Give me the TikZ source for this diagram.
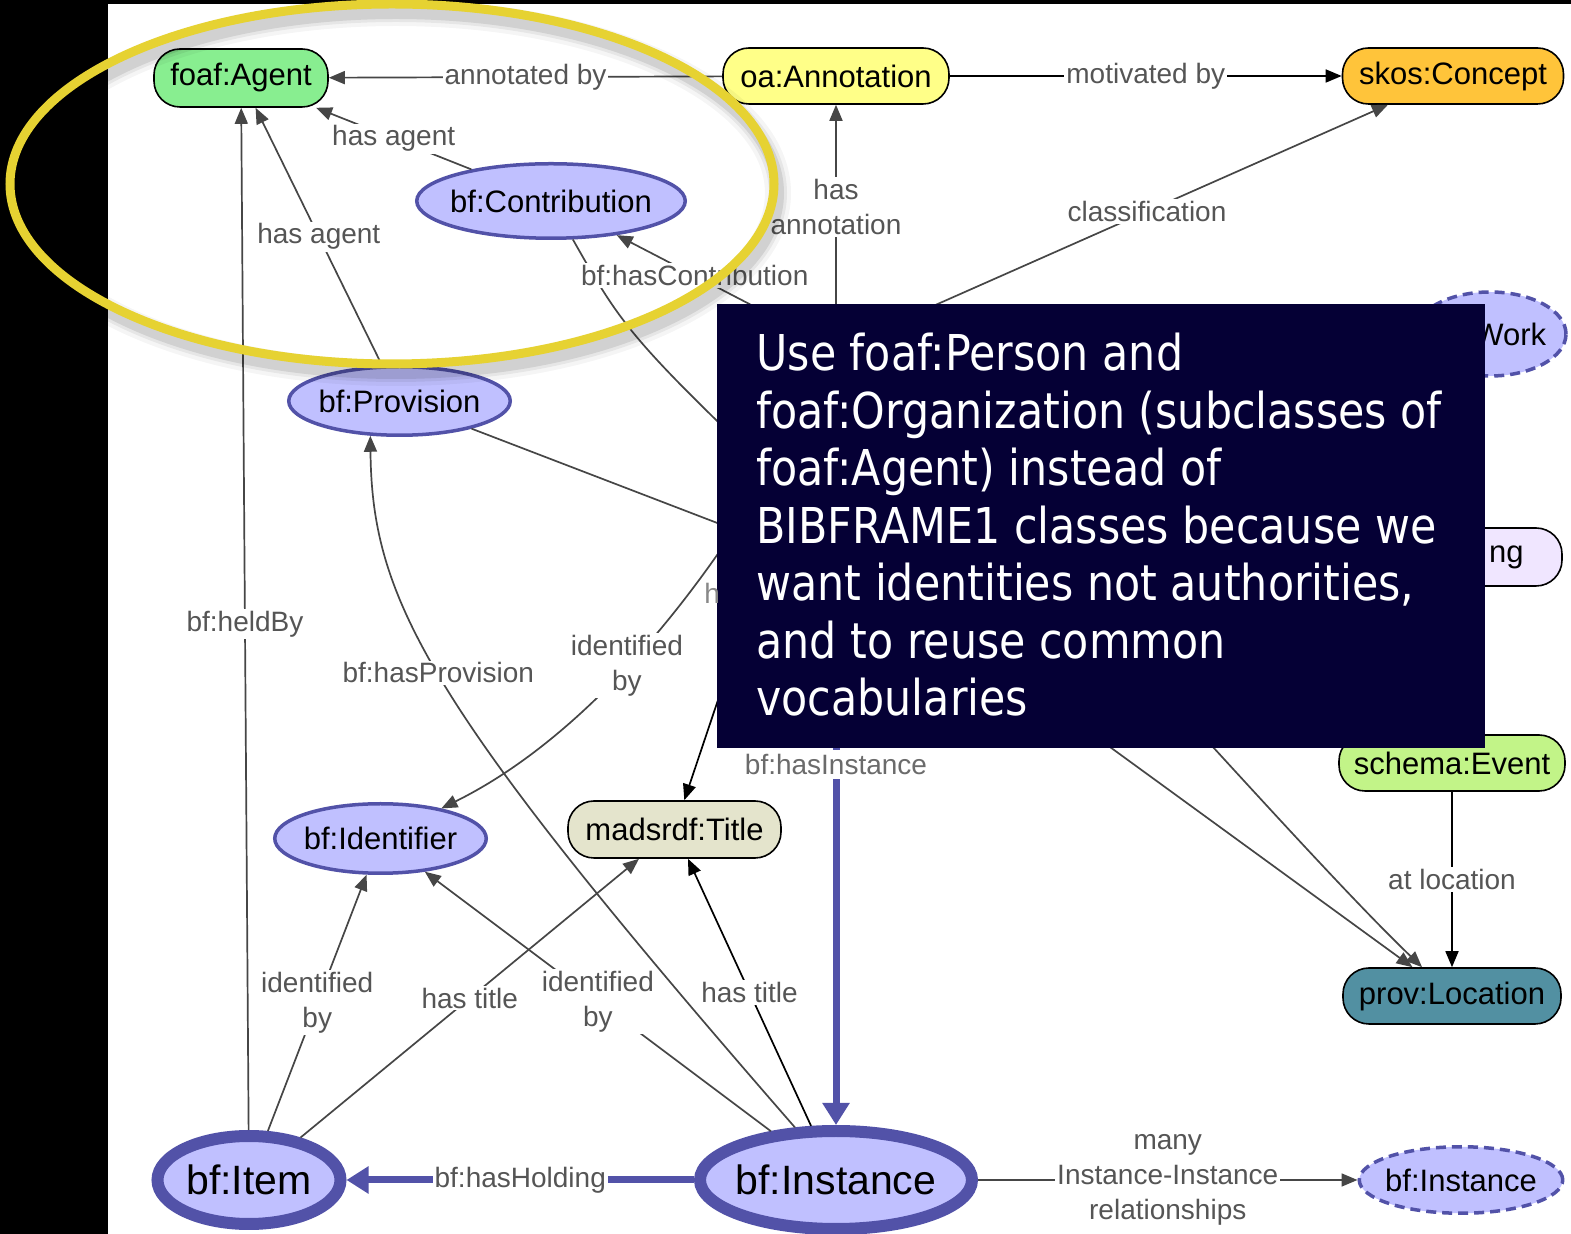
\documentclass[tikz,border=0pt]{standalone}
\usepackage{fontspec}
\usepackage{graphicx}
\setmainfont{Liberation Sans}
\newfontfamily\notefont{DejaVu Sans}
\usetikzlibrary{arrows.meta,shapes.geometric}

\definecolor{lav}{RGB}{192,192,255}
\definecolor{lavedge}{RGB}{82,82,168}
\definecolor{agentgreen}{RGB}{136,238,144}
\definecolor{annoyellow}{RGB}{255,255,136}
\definecolor{conceptorange}{RGB}{255,196,58}
\definecolor{titlegrey}{RGB}{228,228,204}
\definecolor{eventgreen}{RGB}{194,244,136}
\definecolor{locteal}{RGB}{82,144,162}
\definecolor{pinklav}{RGB}{240,230,255}
\definecolor{edgegrey}{RGB}{70,70,70}
\definecolor{labelgrey}{RGB}{85,85,85}
\definecolor{notebg}{RGB}{5,0,53}
\definecolor{ringyellow}{RGB}{230,210,50}

% zero-width centred text, so the ellipse size is set by its minimum size only
\newcommand{\ctext}[1]{\makebox[0pt]{#1}}

\tikzset{
  pill/.style={rectangle, draw=black, line width=0.8pt, rounded corners=13pt,
    inner sep=0pt, font=\fontsize{15.5}{18}\selectfont},
  classnode/.style={ellipse, draw=lavedge, fill=lav, line width=1.75pt,
    inner sep=0pt, font=\fontsize{15.5}{18}\selectfont},
  bignode/.style={ellipse, draw=lavedge, fill=lav, line width=6pt,
    inner sep=0pt, font=\fontsize{20.5}{24}\selectfont},
  ghostnode/.style={classnode, dash pattern=on 5pt off 3pt},
  rel/.style={draw=edgegrey, line width=0.85pt, -{Triangle[length=8pt,width=6.5pt]}},
  relblack/.style={rel, draw=black},
  heavy/.style={draw=lavedge, line width=3.5pt, -{Triangle[length=11pt,width=13pt]}},
  lbl/.style={fill=white, text=labelgrey, inner sep=1pt,
    font=\fontsize{14}{17.5}\selectfont, align=center},
}

\begin{document}
\begin{tikzpicture}[x=0.5pt, y=-0.5pt]
\useasboundingbox (0,0) rectangle (1571,1234);
\fill[white] (0,0) rectangle (1571,1234);

% ---- class nodes ----
\node[pill, fill=agentgreen, minimum width=87pt, minimum height=29pt] (agent) at (241,78) {foaf:Agent};
\node[pill, fill=annoyellow, minimum width=113pt, minimum height=28pt] (anno) at (836,76) {oa:Annotation};
\node[pill, fill=conceptorange, minimum width=110.5pt, minimum height=28pt] (concept) at (1453,76) {skos:Concept};
\node[classnode, minimum width=134.25pt, minimum height=37.25pt] (contrib) at (551,201) {\ctext{bf:Contribution}};
\node[classnode, minimum width=110.75pt, minimum height=34.25pt] (prov) at (399.5,401) {\ctext{bf:Provision}};
\node[classnode, minimum width=109.25pt, minimum height=38.25pt] (work) at (836,349) {};
\node[ghostnode, minimum width=76pt, minimum height=42pt] (rwork) at (1490,334) {\ctext{\hspace*{3pt}bf:Work}};
\node[pill, fill=pinklav, minimum width=149pt, minimum height=29pt] (holdbox) at (1413,557) {};
\node[anchor=east, inner sep=0pt, font=\fontsize{15.5}{18}\selectfont] (holdtext) at (1524,557) {ng};
\coordinate (h1) at (897,592);
\node[classnode, minimum width=105.75pt, minimum height=34.75pt] (ident) at (380.5,838.5) {\ctext{bf:Identifier}};
\node[pill, fill=titlegrey, minimum width=106.5pt, minimum height=28.5pt] (title) at (674.5,829.5) {madsrdf:Title};
\node[pill, fill=eventgreen, minimum width=113pt, minimum height=28pt] (event) at (1452,763) {schema:Event};
\node[pill, fill=locteal, minimum width=109pt, minimum height=28pt] (loc) at (1452,996) {prov:Location};
\node[bignode, minimum width=91.5pt, minimum height=44pt] (item) at (249,1180) {\ctext{bf:Item}};
\node[bignode, minimum width=136pt, minimum height=49pt] (inst) at (836,1180) {\ctext{bf:Instance}};
\node[ghostnode, minimum width=101.75pt, minimum height=33.25pt] (dinst) at (1461,1180) {\ctext{bf:Instance}};

% ---- relations ----
\draw[rel] (contrib) .. controls (630,340) .. (h1);
\draw[rel] (prov) -- (h1);
\draw[rel] (h1) -- (loc);
\draw[rel] (work) .. controls (1050,560) and (1300,850) .. (loc);
\draw[rel] (anno) -- node[lbl]{annotated by} (agent);
\draw[relblack] (anno) -- node[lbl]{motivated by} (concept);
\draw[rel] (contrib) -- node[lbl]{has agent} (agent);
\draw[rel] (prov) -- node[lbl]{has agent} (agent);
\draw[rel] (item) -- node[lbl, pos=0.495]{bf:heldBy} (agent);
\draw[rel] (work) -- node[lbl]{has\\annotation} (anno);
\draw[rel] (work) -- node[lbl]{classification} (concept);
\draw[rel] (work) -- node[lbl]{bf:hasContribution} (contrib);
\draw[relblack] (work) -- (title);
\draw[rel] (work) .. controls (730,560) and (600,730) .. node[lbl, pos=0.575]{identified\\by} (ident);
\draw[heavy] (work) -- node[lbl, pos=0.51, inner sep=2pt, text=black!58]{bf:hasInstance} (inst);
\draw[heavy] (inst) -- node[lbl]{bf:hasHolding} (item);
\draw[rel] (inst) -- node[lbl]{many\\Instance-Instance\\relationships} (dinst);
\draw[rel] (item) -- node[lbl]{identified\\by} (ident);
\draw[rel] (item) -- node[lbl]{has title} (title);
\draw[rel] (inst) -- node[lbl]{identified\\by} (ident);
\draw[relblack] (inst) -- node[lbl]{has title} (title);
\draw[rel] (inst.128.7) .. controls (427,705) and (372,600) .. node[lbl, pos=0.52]{bf:hasProvision} (prov.230);
\draw[relblack] (event) -- node[lbl]{at location} (loc);

% ---- note panel ----
\node[fill=notebg, inner sep=0pt, minimum width=384pt, minimum height=222pt, anchor=north west] (notebox) at (717,304) {};
% the only part of the work-to-title label left uncovered by the panel
\node[anchor=base west, inner sep=0pt, text=labelgrey!70, font=\fontsize{14}{17.5}\selectfont] (titlelblpart) at (704,604) {h};
\node[anchor=base west, inner sep=0pt, text=white] (notetext) at (756,371)
  {\notefont\fontsize{24.7}{28.75}\selectfont\scalebox{0.866}[1]{\begin{tabular}[t]{@{}l@{}}
  Use foaf:Person and\\
  foaf:Organization (subclasses of\\
  foaf:Agent) instead of\\
  BIBFRAME1 classes because we\\
  want identities not authorities,\\
  and to reuse common\\
  vocabularies
  \end{tabular}}};

% ---- frame strips ----
\fill[black] (0,0) rectangle (108,1234);
\fill[black] (0,0) rectangle (1571,4);

% ---- highlight ring with its soft shadow ----
\coordinate (ringc) at (392,184);
\coordinate (shadc) at (396,193);
\draw[black, opacity=0.04, line width=13pt] (shadc) ellipse [x radius=382, y radius=180];
\draw[black, opacity=0.06, line width=9pt] (shadc) ellipse [x radius=382, y radius=180];
\draw[black, opacity=0.09, line width=6pt] (shadc) ellipse [x radius=382, y radius=180];
\draw[ringyellow, line width=4.5pt] (ringc) ellipse [x radius=382, y radius=180];
\end{tikzpicture}
\end{document}
